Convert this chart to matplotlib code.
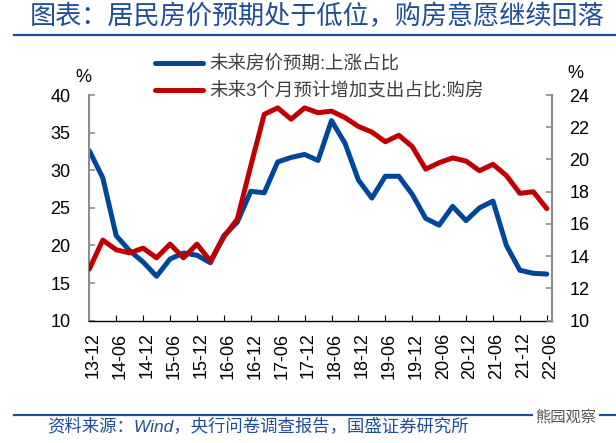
import matplotlib
matplotlib.use("Agg")
import matplotlib.pyplot as plt
from matplotlib.transforms import ScaledTranslation

plt.rcParams['font.family'] = ['Liberation Sans', 'Noto Sans CJK SC', 'DejaVu Sans']

# 季度数据 13-12 ... 22-06
quarters = ['13-12', '14-03', '14-06', '14-09', '14-12', '15-03', '15-06', '15-09',
            '15-12', '16-03', '16-06', '16-09', '16-12', '17-03', '17-06', '17-09',
            '17-12', '18-03', '18-06', '18-09', '18-12', '19-03', '19-06', '19-09',
            '19-12', '20-03', '20-06', '20-09', '20-12', '21-03', '21-06', '21-09',
            '21-12', '22-03', '22-06']

# 未来房价预期:上涨占比 (左轴, %)
house_price_up = [32.6, 29.0, 21.3, 19.3, 17.8, 15.9, 18.2, 19.0, 18.7, 17.7,
                  21.3, 23.1, 27.2, 27.0, 31.1, 31.7, 32.1, 31.3, 36.6, 33.6,
                  28.7, 26.3, 29.2, 29.2, 26.8, 23.6, 22.7, 25.2, 23.3, 25.0,
                  25.9, 20.0, 16.7, 16.3, 16.2]

# 未来3个月预计增加支出占比:购房 (右轴, %)
buy_house_spend = [13.2, 15.0, 14.4, 14.2, 14.5, 13.9, 14.75, 13.9, 14.75, 13.7,
                   15.2, 16.3, 19.6, 22.8, 23.2, 22.5, 23.2, 22.9, 23.0, 22.6,
                   22.05, 21.7, 21.1, 21.5, 20.8, 19.4, 19.8, 20.1, 19.9, 19.3,
                   19.7, 19.0, 17.9, 18.0, 16.95]

BLUE = '#00469B'
RED = '#C00000'
TITLE_BLUE = '#1F4E99'
GRAY = '#8C8C8C'

W, H = 616, 443
fig = plt.figure(figsize=(W / 100, H / 100), dpi=100)
ax = fig.add_axes([89.3 / W, 1 - 320.7 / H, (551.5 - 89.3) / W, (320.7 - 95) / H])
ax2 = ax.twinx()

x = list(range(len(quarters)))
l1, = ax.plot(x, house_price_up, color=BLUE, lw=3.6, solid_joinstyle='round',
              solid_capstyle='round', label='未来房价预期:上涨占比')
l2, = ax2.plot(x, buy_house_spend, color=RED, lw=3.6, solid_joinstyle='round',
               solid_capstyle='round', label='未来3个月预计增加支出占比:购房')

ax.set_xlim(0, 34.35)
ax.set_ylim(10, 40)
ax.set_yticks(range(10, 41, 5))
ax2.set_ylim(10, 24)
ax2.set_yticks(range(10, 25, 2))

ax.set_xticks(x[::2])
ax.set_xticklabels(quarters[::2], rotation=90)

for s in ['top', 'right']:
    ax.spines[s].set_visible(False)
for s in ['top', 'left', 'bottom']:
    ax2.spines[s].set_visible(False)
ax.spines['left'].set_color(GRAY)
ax.spines['left'].set_linewidth(1.5)
ax2.spines['right'].set_color(GRAY)
ax2.spines['right'].set_linewidth(1.5)
ax.spines['bottom'].set_color('black')
ax.spines['bottom'].set_linewidth(1.0)

ax.tick_params(axis='y', direction='in', length=4, width=1.2, color=GRAY,
               labelsize=13, pad=13.7)
ax2.tick_params(axis='y', direction='in', length=4, width=1.2, color=GRAY,
                labelsize=13, pad=12.8)
ax.tick_params(axis='x', direction='in', length=4, width=0.8, color='black',
               labelsize=13, pad=8.5)

offset = ScaledTranslation(4 / 100, 0, fig.dpi_scale_trans)
for lab in ax.get_xticklabels():
    lab.set_transform(lab.get_transform() + offset)

fig.text(83 / W, 1 - 77 / H, '%', ha='center', va='center', fontsize=13)
fig.text(575 / W, 1 - 73 / H, '%', ha='center', va='center', fontsize=13)

fig.legend(handles=[l1, l2], loc='upper left', bbox_to_anchor=(155 / W, 1 - 56.5 / H),
           frameon=False, fontsize=13.3, borderpad=0, borderaxespad=0,
           handlelength=2.6, handletextpad=0.32, labelspacing=0.47,
           labelcolor='#404040')

# 标题和分隔线
fig.text(29.5 / W, 1 - 17 / H, '图表：居民房价预期处于低位，购房意愿继续回落',
         ha='left', va='center', fontsize=18.85, color=TITLE_BLUE,
         family=['Noto Sans CJK SC'])
fig.add_artist(plt.Line2D([14 / W, 1], [1 - 35 / H] * 2, color=TITLE_BLUE, lw=1.6))

# 底部来源
fig.add_artist(plt.Line2D([14 / W, 1], [1 - 415 / H] * 2, color=TITLE_BLUE, lw=1.6))
fig.text(47 / W, 1 - 426 / H, '资料来源：Wind，央行问卷调查报告，国盛证券研究所',
         ha='left', va='center', fontsize=12.5, color=TITLE_BLUE, style='italic')
fig.text(566 / W, 1 - 417 / H, '熊园观察', ha='center', va='center', fontsize=11,
         color='#555555', family=['Noto Sans CJK SC'],
         bbox=dict(facecolor='white', edgecolor='none', pad=1.5))

fig.savefig('out.png', dpi=100)
